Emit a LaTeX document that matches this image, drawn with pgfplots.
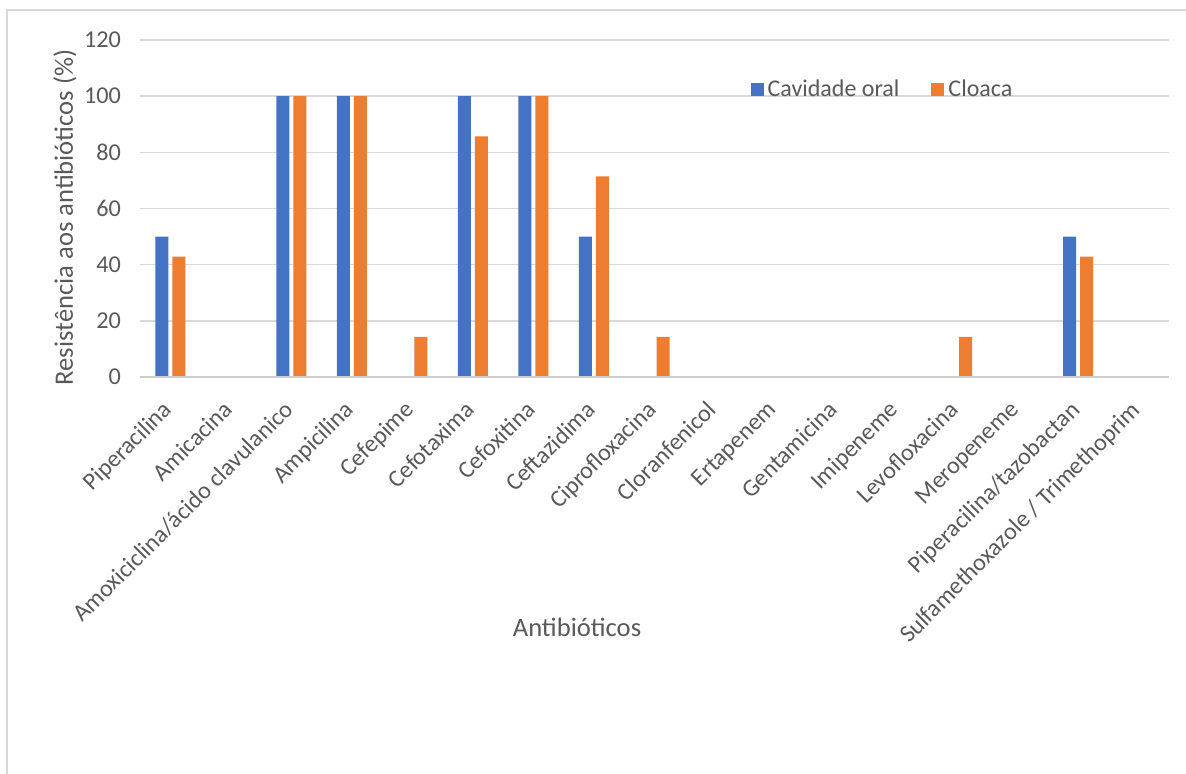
\documentclass[border=0pt]{standalone}
\usepackage{pgfplots}
\pgfplotsset{compat=1.18}
\usepackage{fontspec}
\setmainfont{Carlito}

\definecolor{seriesA}{RGB}{68,114,196}
\definecolor{seriesB}{RGB}{237,125,49}
\definecolor{txtgray}{RGB}{89,89,89}
\definecolor{gridgray}{RGB}{217,217,217}
\definecolor{basegray}{RGB}{205,205,205}
\definecolor{framegray}{RGB}{217,217,217}

\pgfplotstableread{
idx oral cloaca
0  50  42.86
1  0   0
2  100 100
3  100 100
4  0   14.29
5  100 85.71
6  100 100
7  50  71.43
8  0   14.29
9  0   0
10 0   0
11 0   0
12 0   0
13 0   14.29
14 0   0
15 50  42.86
16 0   0
}\resdata

\begin{document}
\begin{tikzpicture}
\useasboundingbox (0pt,0pt) rectangle (593pt,387pt);
% chart area frame
\draw[framegray, line width=0.8pt] (3.5pt,-10pt) -- (3.5pt,382pt) -- (620pt,382pt);
\begin{axis}[
  at={(70pt,198.5pt)}, anchor=south west,
  scale only axis,
  width=514.5pt, height=168.5pt,
  ybar=2pt, bar width=6.5pt,
  xmin=-0.5, xmax=16.5,
  ymin=0, ymax=120,
  ytick={0,20,...,120},
  xtick=data,
  xticklabels={Piperacilina,Amicacina,Amoxiciclina/ácido clavulanico,Ampicilina,Cefepime,Cefotaxima,Cefoxitina,Ceftazidima,Ciprofloxacina,Cloranfenicol,Ertapenem,Gentamicina,Imipeneme,Levofloxacina,Meropeneme,Piperacilina/tazobactan,Sulfamethoxazole / Trimethoprim},
  /pgf/number format/assume math mode=true,
  tick label style={font=\fontsize{12.1}{14}\selectfont, text=txtgray},
  xticklabel style={anchor=north east, inner sep=0pt, yshift=-11pt, xshift=-4.5pt, rotate=45},
  yticklabel style={xshift=-6pt},
  major tick length=0pt,
  axis line style={draw=none},
  ymajorgrids, grid style={gridgray, line width=0.8pt},
  axis x line*=bottom,
  axis y line*=left,
  ylabel={Resistência aos antibióticos (\%)},
  ylabel style={font=\fontsize{13.3}{16}\selectfont, text=txtgray, at={(rel axis cs:0,0.5)}, anchor=center, yshift=37.5pt, xshift=-4.5pt},
  xlabel={Antibióticos},
  xlabel style={font=\fontsize{13.3}{16}\selectfont, text=txtgray, at={(rel axis cs:0.4247,0)}, yshift=-125pt, anchor=center},
  legend style={at={(rel axis cs:0.593,0.852)}, anchor=west, draw=none, fill=none,
    font=\fontsize{12}{14}\selectfont, text=txtgray, legend columns=2,
    /tikz/every even column/.append style={column sep=14pt}, inner sep=0pt},
  legend image code/.code={\fill[#1] (0pt,-3.25pt) rectangle (6.5pt,3.25pt);},
  clip=false,
]
\addplot[fill=seriesA, draw=none] table[x=idx, y=oral] {\resdata};
\addplot[fill=seriesB, draw=none] table[x=idx, y=cloaca] {\resdata};
\legend{Cavidade oral, Cloaca}
\draw[basegray, line width=0.9pt] (rel axis cs:0,0) -- (rel axis cs:1,0);
\end{axis}
\end{tikzpicture}
\end{document}
